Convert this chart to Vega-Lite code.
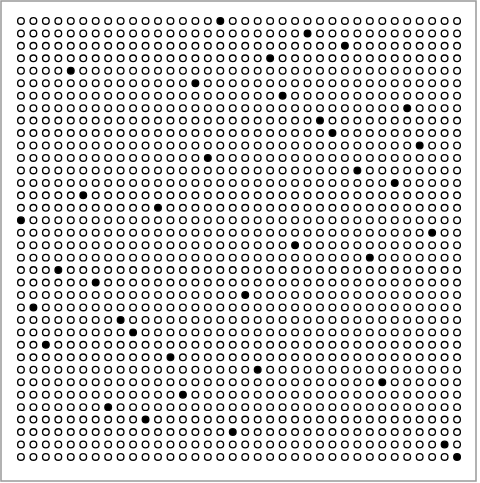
{
"$schema": "https://vega.github.io/schema/vega-lite/v6.json",
"width": 480, "height": 483,
"autosize": {"type": "fit", "contains": "padding"},
"padding": {"left": 1, "top": 1, "right": 4, "bottom": 2},
"background": "white",
"config": {"view": {"stroke": "#999999", "strokeWidth": 1.5}},
"data": {"values": [
{"r":0,"c":0,"f":0},{"r":0,"c":1,"f":0},{"r":0,"c":2,"f":0},{"r":0,"c":3,"f":0},{"r":0,"c":4,"f":0},{"r":0,"c":5,"f":0},{"r":0,"c":6,"f":0},{"r":0,"c":7,"f":0},{"r":0,"c":8,"f":0},{"r":0,"c":9,"f":0},{"r":0,"c":10,"f":0},{"r":0,"c":11,"f":0},{"r":0,"c":12,"f":0},{"r":0,"c":13,"f":0},{"r":0,"c":14,"f":0},{"r":0,"c":15,"f":0},{"r":0,"c":16,"f":1},{"r":0,"c":17,"f":0},{"r":0,"c":18,"f":0},{"r":0,"c":19,"f":0},{"r":0,"c":20,"f":0},{"r":0,"c":21,"f":0},{"r":0,"c":22,"f":0},{"r":0,"c":23,"f":0},{"r":0,"c":24,"f":0},{"r":0,"c":25,"f":0},{"r":0,"c":26,"f":0},{"r":0,"c":27,"f":0},{"r":0,"c":28,"f":0},{"r":0,"c":29,"f":0},{"r":0,"c":30,"f":0},{"r":0,"c":31,"f":0},{"r":0,"c":32,"f":0},{"r":0,"c":33,"f":0},{"r":0,"c":34,"f":0},{"r":0,"c":35,"f":0},
{"r":1,"c":0,"f":0},{"r":1,"c":1,"f":0},{"r":1,"c":2,"f":0},{"r":1,"c":3,"f":0},{"r":1,"c":4,"f":0},{"r":1,"c":5,"f":0},{"r":1,"c":6,"f":0},{"r":1,"c":7,"f":0},{"r":1,"c":8,"f":0},{"r":1,"c":9,"f":0},{"r":1,"c":10,"f":0},{"r":1,"c":11,"f":0},{"r":1,"c":12,"f":0},{"r":1,"c":13,"f":0},{"r":1,"c":14,"f":0},{"r":1,"c":15,"f":0},{"r":1,"c":16,"f":0},{"r":1,"c":17,"f":0},{"r":1,"c":18,"f":0},{"r":1,"c":19,"f":0},{"r":1,"c":20,"f":0},{"r":1,"c":21,"f":0},{"r":1,"c":22,"f":0},{"r":1,"c":23,"f":1},{"r":1,"c":24,"f":0},{"r":1,"c":25,"f":0},{"r":1,"c":26,"f":0},{"r":1,"c":27,"f":0},{"r":1,"c":28,"f":0},{"r":1,"c":29,"f":0},{"r":1,"c":30,"f":0},{"r":1,"c":31,"f":0},{"r":1,"c":32,"f":0},{"r":1,"c":33,"f":0},{"r":1,"c":34,"f":0},{"r":1,"c":35,"f":0},
{"r":2,"c":0,"f":0},{"r":2,"c":1,"f":0},{"r":2,"c":2,"f":0},{"r":2,"c":3,"f":0},{"r":2,"c":4,"f":0},{"r":2,"c":5,"f":0},{"r":2,"c":6,"f":0},{"r":2,"c":7,"f":0},{"r":2,"c":8,"f":0},{"r":2,"c":9,"f":0},{"r":2,"c":10,"f":0},{"r":2,"c":11,"f":0},{"r":2,"c":12,"f":0},{"r":2,"c":13,"f":0},{"r":2,"c":14,"f":0},{"r":2,"c":15,"f":0},{"r":2,"c":16,"f":0},{"r":2,"c":17,"f":0},{"r":2,"c":18,"f":0},{"r":2,"c":19,"f":0},{"r":2,"c":20,"f":0},{"r":2,"c":21,"f":0},{"r":2,"c":22,"f":0},{"r":2,"c":23,"f":0},{"r":2,"c":24,"f":0},{"r":2,"c":25,"f":0},{"r":2,"c":26,"f":1},{"r":2,"c":27,"f":0},{"r":2,"c":28,"f":0},{"r":2,"c":29,"f":0},{"r":2,"c":30,"f":0},{"r":2,"c":31,"f":0},{"r":2,"c":32,"f":0},{"r":2,"c":33,"f":0},{"r":2,"c":34,"f":0},{"r":2,"c":35,"f":0},
{"r":3,"c":0,"f":0},{"r":3,"c":1,"f":0},{"r":3,"c":2,"f":0},{"r":3,"c":3,"f":0},{"r":3,"c":4,"f":0},{"r":3,"c":5,"f":0},{"r":3,"c":6,"f":0},{"r":3,"c":7,"f":0},{"r":3,"c":8,"f":0},{"r":3,"c":9,"f":0},{"r":3,"c":10,"f":0},{"r":3,"c":11,"f":0},{"r":3,"c":12,"f":0},{"r":3,"c":13,"f":0},{"r":3,"c":14,"f":0},{"r":3,"c":15,"f":0},{"r":3,"c":16,"f":0},{"r":3,"c":17,"f":0},{"r":3,"c":18,"f":0},{"r":3,"c":19,"f":0},{"r":3,"c":20,"f":1},{"r":3,"c":21,"f":0},{"r":3,"c":22,"f":0},{"r":3,"c":23,"f":0},{"r":3,"c":24,"f":0},{"r":3,"c":25,"f":0},{"r":3,"c":26,"f":0},{"r":3,"c":27,"f":0},{"r":3,"c":28,"f":0},{"r":3,"c":29,"f":0},{"r":3,"c":30,"f":0},{"r":3,"c":31,"f":0},{"r":3,"c":32,"f":0},{"r":3,"c":33,"f":0},{"r":3,"c":34,"f":0},{"r":3,"c":35,"f":0},
{"r":4,"c":0,"f":0},{"r":4,"c":1,"f":0},{"r":4,"c":2,"f":0},{"r":4,"c":3,"f":0},{"r":4,"c":4,"f":1},{"r":4,"c":5,"f":0},{"r":4,"c":6,"f":0},{"r":4,"c":7,"f":0},{"r":4,"c":8,"f":0},{"r":4,"c":9,"f":0},{"r":4,"c":10,"f":0},{"r":4,"c":11,"f":0},{"r":4,"c":12,"f":0},{"r":4,"c":13,"f":0},{"r":4,"c":14,"f":0},{"r":4,"c":15,"f":0},{"r":4,"c":16,"f":0},{"r":4,"c":17,"f":0},{"r":4,"c":18,"f":0},{"r":4,"c":19,"f":0},{"r":4,"c":20,"f":0},{"r":4,"c":21,"f":0},{"r":4,"c":22,"f":0},{"r":4,"c":23,"f":0},{"r":4,"c":24,"f":0},{"r":4,"c":25,"f":0},{"r":4,"c":26,"f":0},{"r":4,"c":27,"f":0},{"r":4,"c":28,"f":0},{"r":4,"c":29,"f":0},{"r":4,"c":30,"f":0},{"r":4,"c":31,"f":0},{"r":4,"c":32,"f":0},{"r":4,"c":33,"f":0},{"r":4,"c":34,"f":0},{"r":4,"c":35,"f":0},
{"r":5,"c":0,"f":0},{"r":5,"c":1,"f":0},{"r":5,"c":2,"f":0},{"r":5,"c":3,"f":0},{"r":5,"c":4,"f":0},{"r":5,"c":5,"f":0},{"r":5,"c":6,"f":0},{"r":5,"c":7,"f":0},{"r":5,"c":8,"f":0},{"r":5,"c":9,"f":0},{"r":5,"c":10,"f":0},{"r":5,"c":11,"f":0},{"r":5,"c":12,"f":0},{"r":5,"c":13,"f":0},{"r":5,"c":14,"f":1},{"r":5,"c":15,"f":0},{"r":5,"c":16,"f":0},{"r":5,"c":17,"f":0},{"r":5,"c":18,"f":0},{"r":5,"c":19,"f":0},{"r":5,"c":20,"f":0},{"r":5,"c":21,"f":0},{"r":5,"c":22,"f":0},{"r":5,"c":23,"f":0},{"r":5,"c":24,"f":0},{"r":5,"c":25,"f":0},{"r":5,"c":26,"f":0},{"r":5,"c":27,"f":0},{"r":5,"c":28,"f":0},{"r":5,"c":29,"f":0},{"r":5,"c":30,"f":0},{"r":5,"c":31,"f":0},{"r":5,"c":32,"f":0},{"r":5,"c":33,"f":0},{"r":5,"c":34,"f":0},{"r":5,"c":35,"f":0},
{"r":6,"c":0,"f":0},{"r":6,"c":1,"f":0},{"r":6,"c":2,"f":0},{"r":6,"c":3,"f":0},{"r":6,"c":4,"f":0},{"r":6,"c":5,"f":0},{"r":6,"c":6,"f":0},{"r":6,"c":7,"f":0},{"r":6,"c":8,"f":0},{"r":6,"c":9,"f":0},{"r":6,"c":10,"f":0},{"r":6,"c":11,"f":0},{"r":6,"c":12,"f":0},{"r":6,"c":13,"f":0},{"r":6,"c":14,"f":0},{"r":6,"c":15,"f":0},{"r":6,"c":16,"f":0},{"r":6,"c":17,"f":0},{"r":6,"c":18,"f":0},{"r":6,"c":19,"f":0},{"r":6,"c":20,"f":0},{"r":6,"c":21,"f":1},{"r":6,"c":22,"f":0},{"r":6,"c":23,"f":0},{"r":6,"c":24,"f":0},{"r":6,"c":25,"f":0},{"r":6,"c":26,"f":0},{"r":6,"c":27,"f":0},{"r":6,"c":28,"f":0},{"r":6,"c":29,"f":0},{"r":6,"c":30,"f":0},{"r":6,"c":31,"f":0},{"r":6,"c":32,"f":0},{"r":6,"c":33,"f":0},{"r":6,"c":34,"f":0},{"r":6,"c":35,"f":0},
{"r":7,"c":0,"f":0},{"r":7,"c":1,"f":0},{"r":7,"c":2,"f":0},{"r":7,"c":3,"f":0},{"r":7,"c":4,"f":0},{"r":7,"c":5,"f":0},{"r":7,"c":6,"f":0},{"r":7,"c":7,"f":0},{"r":7,"c":8,"f":0},{"r":7,"c":9,"f":0},{"r":7,"c":10,"f":0},{"r":7,"c":11,"f":0},{"r":7,"c":12,"f":0},{"r":7,"c":13,"f":0},{"r":7,"c":14,"f":0},{"r":7,"c":15,"f":0},{"r":7,"c":16,"f":0},{"r":7,"c":17,"f":0},{"r":7,"c":18,"f":0},{"r":7,"c":19,"f":0},{"r":7,"c":20,"f":0},{"r":7,"c":21,"f":0},{"r":7,"c":22,"f":0},{"r":7,"c":23,"f":0},{"r":7,"c":24,"f":0},{"r":7,"c":25,"f":0},{"r":7,"c":26,"f":0},{"r":7,"c":27,"f":0},{"r":7,"c":28,"f":0},{"r":7,"c":29,"f":0},{"r":7,"c":30,"f":0},{"r":7,"c":31,"f":1},{"r":7,"c":32,"f":0},{"r":7,"c":33,"f":0},{"r":7,"c":34,"f":0},{"r":7,"c":35,"f":0},
{"r":8,"c":0,"f":0},{"r":8,"c":1,"f":0},{"r":8,"c":2,"f":0},{"r":8,"c":3,"f":0},{"r":8,"c":4,"f":0},{"r":8,"c":5,"f":0},{"r":8,"c":6,"f":0},{"r":8,"c":7,"f":0},{"r":8,"c":8,"f":0},{"r":8,"c":9,"f":0},{"r":8,"c":10,"f":0},{"r":8,"c":11,"f":0},{"r":8,"c":12,"f":0},{"r":8,"c":13,"f":0},{"r":8,"c":14,"f":0},{"r":8,"c":15,"f":0},{"r":8,"c":16,"f":0},{"r":8,"c":17,"f":0},{"r":8,"c":18,"f":0},{"r":8,"c":19,"f":0},{"r":8,"c":20,"f":0},{"r":8,"c":21,"f":0},{"r":8,"c":22,"f":0},{"r":8,"c":23,"f":0},{"r":8,"c":24,"f":1},{"r":8,"c":25,"f":0},{"r":8,"c":26,"f":0},{"r":8,"c":27,"f":0},{"r":8,"c":28,"f":0},{"r":8,"c":29,"f":0},{"r":8,"c":30,"f":0},{"r":8,"c":31,"f":0},{"r":8,"c":32,"f":0},{"r":8,"c":33,"f":0},{"r":8,"c":34,"f":0},{"r":8,"c":35,"f":0},
{"r":9,"c":0,"f":0},{"r":9,"c":1,"f":0},{"r":9,"c":2,"f":0},{"r":9,"c":3,"f":0},{"r":9,"c":4,"f":0},{"r":9,"c":5,"f":0},{"r":9,"c":6,"f":0},{"r":9,"c":7,"f":0},{"r":9,"c":8,"f":0},{"r":9,"c":9,"f":0},{"r":9,"c":10,"f":0},{"r":9,"c":11,"f":0},{"r":9,"c":12,"f":0},{"r":9,"c":13,"f":0},{"r":9,"c":14,"f":0},{"r":9,"c":15,"f":0},{"r":9,"c":16,"f":0},{"r":9,"c":17,"f":0},{"r":9,"c":18,"f":0},{"r":9,"c":19,"f":0},{"r":9,"c":20,"f":0},{"r":9,"c":21,"f":0},{"r":9,"c":22,"f":0},{"r":9,"c":23,"f":0},{"r":9,"c":24,"f":0},{"r":9,"c":25,"f":1},{"r":9,"c":26,"f":0},{"r":9,"c":27,"f":0},{"r":9,"c":28,"f":0},{"r":9,"c":29,"f":0},{"r":9,"c":30,"f":0},{"r":9,"c":31,"f":0},{"r":9,"c":32,"f":0},{"r":9,"c":33,"f":0},{"r":9,"c":34,"f":0},{"r":9,"c":35,"f":0},
{"r":10,"c":0,"f":0},{"r":10,"c":1,"f":0},{"r":10,"c":2,"f":0},{"r":10,"c":3,"f":0},{"r":10,"c":4,"f":0},{"r":10,"c":5,"f":0},{"r":10,"c":6,"f":0},{"r":10,"c":7,"f":0},{"r":10,"c":8,"f":0},{"r":10,"c":9,"f":0},{"r":10,"c":10,"f":0},{"r":10,"c":11,"f":0},{"r":10,"c":12,"f":0},{"r":10,"c":13,"f":0},{"r":10,"c":14,"f":0},{"r":10,"c":15,"f":0},{"r":10,"c":16,"f":0},{"r":10,"c":17,"f":0},{"r":10,"c":18,"f":0},{"r":10,"c":19,"f":0},{"r":10,"c":20,"f":0},{"r":10,"c":21,"f":0},{"r":10,"c":22,"f":0},{"r":10,"c":23,"f":0},{"r":10,"c":24,"f":0},{"r":10,"c":25,"f":0},{"r":10,"c":26,"f":0},{"r":10,"c":27,"f":0},{"r":10,"c":28,"f":0},{"r":10,"c":29,"f":0},{"r":10,"c":30,"f":0},{"r":10,"c":31,"f":0},{"r":10,"c":32,"f":1},{"r":10,"c":33,"f":0},{"r":10,"c":34,"f":0},{"r":10,"c":35,"f":0},
{"r":11,"c":0,"f":0},{"r":11,"c":1,"f":0},{"r":11,"c":2,"f":0},{"r":11,"c":3,"f":0},{"r":11,"c":4,"f":0},{"r":11,"c":5,"f":0},{"r":11,"c":6,"f":0},{"r":11,"c":7,"f":0},{"r":11,"c":8,"f":0},{"r":11,"c":9,"f":0},{"r":11,"c":10,"f":0},{"r":11,"c":11,"f":0},{"r":11,"c":12,"f":0},{"r":11,"c":13,"f":0},{"r":11,"c":14,"f":0},{"r":11,"c":15,"f":1},{"r":11,"c":16,"f":0},{"r":11,"c":17,"f":0},{"r":11,"c":18,"f":0},{"r":11,"c":19,"f":0},{"r":11,"c":20,"f":0},{"r":11,"c":21,"f":0},{"r":11,"c":22,"f":0},{"r":11,"c":23,"f":0},{"r":11,"c":24,"f":0},{"r":11,"c":25,"f":0},{"r":11,"c":26,"f":0},{"r":11,"c":27,"f":0},{"r":11,"c":28,"f":0},{"r":11,"c":29,"f":0},{"r":11,"c":30,"f":0},{"r":11,"c":31,"f":0},{"r":11,"c":32,"f":0},{"r":11,"c":33,"f":0},{"r":11,"c":34,"f":0},{"r":11,"c":35,"f":0},
{"r":12,"c":0,"f":0},{"r":12,"c":1,"f":0},{"r":12,"c":2,"f":0},{"r":12,"c":3,"f":0},{"r":12,"c":4,"f":0},{"r":12,"c":5,"f":0},{"r":12,"c":6,"f":0},{"r":12,"c":7,"f":0},{"r":12,"c":8,"f":0},{"r":12,"c":9,"f":0},{"r":12,"c":10,"f":0},{"r":12,"c":11,"f":0},{"r":12,"c":12,"f":0},{"r":12,"c":13,"f":0},{"r":12,"c":14,"f":0},{"r":12,"c":15,"f":0},{"r":12,"c":16,"f":0},{"r":12,"c":17,"f":0},{"r":12,"c":18,"f":0},{"r":12,"c":19,"f":0},{"r":12,"c":20,"f":0},{"r":12,"c":21,"f":0},{"r":12,"c":22,"f":0},{"r":12,"c":23,"f":0},{"r":12,"c":24,"f":0},{"r":12,"c":25,"f":0},{"r":12,"c":26,"f":0},{"r":12,"c":27,"f":1},{"r":12,"c":28,"f":0},{"r":12,"c":29,"f":0},{"r":12,"c":30,"f":0},{"r":12,"c":31,"f":0},{"r":12,"c":32,"f":0},{"r":12,"c":33,"f":0},{"r":12,"c":34,"f":0},{"r":12,"c":35,"f":0},
{"r":13,"c":0,"f":0},{"r":13,"c":1,"f":0},{"r":13,"c":2,"f":0},{"r":13,"c":3,"f":0},{"r":13,"c":4,"f":0},{"r":13,"c":5,"f":0},{"r":13,"c":6,"f":0},{"r":13,"c":7,"f":0},{"r":13,"c":8,"f":0},{"r":13,"c":9,"f":0},{"r":13,"c":10,"f":0},{"r":13,"c":11,"f":0},{"r":13,"c":12,"f":0},{"r":13,"c":13,"f":0},{"r":13,"c":14,"f":0},{"r":13,"c":15,"f":0},{"r":13,"c":16,"f":0},{"r":13,"c":17,"f":0},{"r":13,"c":18,"f":0},{"r":13,"c":19,"f":0},{"r":13,"c":20,"f":0},{"r":13,"c":21,"f":0},{"r":13,"c":22,"f":0},{"r":13,"c":23,"f":0},{"r":13,"c":24,"f":0},{"r":13,"c":25,"f":0},{"r":13,"c":26,"f":0},{"r":13,"c":27,"f":0},{"r":13,"c":28,"f":0},{"r":13,"c":29,"f":0},{"r":13,"c":30,"f":1},{"r":13,"c":31,"f":0},{"r":13,"c":32,"f":0},{"r":13,"c":33,"f":0},{"r":13,"c":34,"f":0},{"r":13,"c":35,"f":0},
{"r":14,"c":0,"f":0},{"r":14,"c":1,"f":0},{"r":14,"c":2,"f":0},{"r":14,"c":3,"f":0},{"r":14,"c":4,"f":0},{"r":14,"c":5,"f":1},{"r":14,"c":6,"f":0},{"r":14,"c":7,"f":0},{"r":14,"c":8,"f":0},{"r":14,"c":9,"f":0},{"r":14,"c":10,"f":0},{"r":14,"c":11,"f":0},{"r":14,"c":12,"f":0},{"r":14,"c":13,"f":0},{"r":14,"c":14,"f":0},{"r":14,"c":15,"f":0},{"r":14,"c":16,"f":0},{"r":14,"c":17,"f":0},{"r":14,"c":18,"f":0},{"r":14,"c":19,"f":0},{"r":14,"c":20,"f":0},{"r":14,"c":21,"f":0},{"r":14,"c":22,"f":0},{"r":14,"c":23,"f":0},{"r":14,"c":24,"f":0},{"r":14,"c":25,"f":0},{"r":14,"c":26,"f":0},{"r":14,"c":27,"f":0},{"r":14,"c":28,"f":0},{"r":14,"c":29,"f":0},{"r":14,"c":30,"f":0},{"r":14,"c":31,"f":0},{"r":14,"c":32,"f":0},{"r":14,"c":33,"f":0},{"r":14,"c":34,"f":0},{"r":14,"c":35,"f":0},
{"r":15,"c":0,"f":0},{"r":15,"c":1,"f":0},{"r":15,"c":2,"f":0},{"r":15,"c":3,"f":0},{"r":15,"c":4,"f":0},{"r":15,"c":5,"f":0},{"r":15,"c":6,"f":0},{"r":15,"c":7,"f":0},{"r":15,"c":8,"f":0},{"r":15,"c":9,"f":0},{"r":15,"c":10,"f":0},{"r":15,"c":11,"f":1},{"r":15,"c":12,"f":0},{"r":15,"c":13,"f":0},{"r":15,"c":14,"f":0},{"r":15,"c":15,"f":0},{"r":15,"c":16,"f":0},{"r":15,"c":17,"f":0},{"r":15,"c":18,"f":0},{"r":15,"c":19,"f":0},{"r":15,"c":20,"f":0},{"r":15,"c":21,"f":0},{"r":15,"c":22,"f":0},{"r":15,"c":23,"f":0},{"r":15,"c":24,"f":0},{"r":15,"c":25,"f":0},{"r":15,"c":26,"f":0},{"r":15,"c":27,"f":0},{"r":15,"c":28,"f":0},{"r":15,"c":29,"f":0},{"r":15,"c":30,"f":0},{"r":15,"c":31,"f":0},{"r":15,"c":32,"f":0},{"r":15,"c":33,"f":0},{"r":15,"c":34,"f":0},{"r":15,"c":35,"f":0},
{"r":16,"c":0,"f":1},{"r":16,"c":1,"f":0},{"r":16,"c":2,"f":0},{"r":16,"c":3,"f":0},{"r":16,"c":4,"f":0},{"r":16,"c":5,"f":0},{"r":16,"c":6,"f":0},{"r":16,"c":7,"f":0},{"r":16,"c":8,"f":0},{"r":16,"c":9,"f":0},{"r":16,"c":10,"f":0},{"r":16,"c":11,"f":0},{"r":16,"c":12,"f":0},{"r":16,"c":13,"f":0},{"r":16,"c":14,"f":0},{"r":16,"c":15,"f":0},{"r":16,"c":16,"f":0},{"r":16,"c":17,"f":0},{"r":16,"c":18,"f":0},{"r":16,"c":19,"f":0},{"r":16,"c":20,"f":0},{"r":16,"c":21,"f":0},{"r":16,"c":22,"f":0},{"r":16,"c":23,"f":0},{"r":16,"c":24,"f":0},{"r":16,"c":25,"f":0},{"r":16,"c":26,"f":0},{"r":16,"c":27,"f":0},{"r":16,"c":28,"f":0},{"r":16,"c":29,"f":0},{"r":16,"c":30,"f":0},{"r":16,"c":31,"f":0},{"r":16,"c":32,"f":0},{"r":16,"c":33,"f":0},{"r":16,"c":34,"f":0},{"r":16,"c":35,"f":0},
{"r":17,"c":0,"f":0},{"r":17,"c":1,"f":0},{"r":17,"c":2,"f":0},{"r":17,"c":3,"f":0},{"r":17,"c":4,"f":0},{"r":17,"c":5,"f":0},{"r":17,"c":6,"f":0},{"r":17,"c":7,"f":0},{"r":17,"c":8,"f":0},{"r":17,"c":9,"f":0},{"r":17,"c":10,"f":0},{"r":17,"c":11,"f":0},{"r":17,"c":12,"f":0},{"r":17,"c":13,"f":0},{"r":17,"c":14,"f":0},{"r":17,"c":15,"f":0},{"r":17,"c":16,"f":0},{"r":17,"c":17,"f":0},{"r":17,"c":18,"f":0},{"r":17,"c":19,"f":0},{"r":17,"c":20,"f":0},{"r":17,"c":21,"f":0},{"r":17,"c":22,"f":0},{"r":17,"c":23,"f":0},{"r":17,"c":24,"f":0},{"r":17,"c":25,"f":0},{"r":17,"c":26,"f":0},{"r":17,"c":27,"f":0},{"r":17,"c":28,"f":0},{"r":17,"c":29,"f":0},{"r":17,"c":30,"f":0},{"r":17,"c":31,"f":0},{"r":17,"c":32,"f":0},{"r":17,"c":33,"f":1},{"r":17,"c":34,"f":0},{"r":17,"c":35,"f":0},
{"r":18,"c":0,"f":0},{"r":18,"c":1,"f":0},{"r":18,"c":2,"f":0},{"r":18,"c":3,"f":0},{"r":18,"c":4,"f":0},{"r":18,"c":5,"f":0},{"r":18,"c":6,"f":0},{"r":18,"c":7,"f":0},{"r":18,"c":8,"f":0},{"r":18,"c":9,"f":0},{"r":18,"c":10,"f":0},{"r":18,"c":11,"f":0},{"r":18,"c":12,"f":0},{"r":18,"c":13,"f":0},{"r":18,"c":14,"f":0},{"r":18,"c":15,"f":0},{"r":18,"c":16,"f":0},{"r":18,"c":17,"f":0},{"r":18,"c":18,"f":0},{"r":18,"c":19,"f":0},{"r":18,"c":20,"f":0},{"r":18,"c":21,"f":0},{"r":18,"c":22,"f":1},{"r":18,"c":23,"f":0},{"r":18,"c":24,"f":0},{"r":18,"c":25,"f":0},{"r":18,"c":26,"f":0},{"r":18,"c":27,"f":0},{"r":18,"c":28,"f":0},{"r":18,"c":29,"f":0},{"r":18,"c":30,"f":0},{"r":18,"c":31,"f":0},{"r":18,"c":32,"f":0},{"r":18,"c":33,"f":0},{"r":18,"c":34,"f":0},{"r":18,"c":35,"f":0},
{"r":19,"c":0,"f":0},{"r":19,"c":1,"f":0},{"r":19,"c":2,"f":0},{"r":19,"c":3,"f":0},{"r":19,"c":4,"f":0},{"r":19,"c":5,"f":0},{"r":19,"c":6,"f":0},{"r":19,"c":7,"f":0},{"r":19,"c":8,"f":0},{"r":19,"c":9,"f":0},{"r":19,"c":10,"f":0},{"r":19,"c":11,"f":0},{"r":19,"c":12,"f":0},{"r":19,"c":13,"f":0},{"r":19,"c":14,"f":0},{"r":19,"c":15,"f":0},{"r":19,"c":16,"f":0},{"r":19,"c":17,"f":0},{"r":19,"c":18,"f":0},{"r":19,"c":19,"f":0},{"r":19,"c":20,"f":0},{"r":19,"c":21,"f":0},{"r":19,"c":22,"f":0},{"r":19,"c":23,"f":0},{"r":19,"c":24,"f":0},{"r":19,"c":25,"f":0},{"r":19,"c":26,"f":0},{"r":19,"c":27,"f":0},{"r":19,"c":28,"f":1},{"r":19,"c":29,"f":0},{"r":19,"c":30,"f":0},{"r":19,"c":31,"f":0},{"r":19,"c":32,"f":0},{"r":19,"c":33,"f":0},{"r":19,"c":34,"f":0},{"r":19,"c":35,"f":0},
{"r":20,"c":0,"f":0},{"r":20,"c":1,"f":0},{"r":20,"c":2,"f":0},{"r":20,"c":3,"f":1},{"r":20,"c":4,"f":0},{"r":20,"c":5,"f":0},{"r":20,"c":6,"f":0},{"r":20,"c":7,"f":0},{"r":20,"c":8,"f":0},{"r":20,"c":9,"f":0},{"r":20,"c":10,"f":0},{"r":20,"c":11,"f":0},{"r":20,"c":12,"f":0},{"r":20,"c":13,"f":0},{"r":20,"c":14,"f":0},{"r":20,"c":15,"f":0},{"r":20,"c":16,"f":0},{"r":20,"c":17,"f":0},{"r":20,"c":18,"f":0},{"r":20,"c":19,"f":0},{"r":20,"c":20,"f":0},{"r":20,"c":21,"f":0},{"r":20,"c":22,"f":0},{"r":20,"c":23,"f":0},{"r":20,"c":24,"f":0},{"r":20,"c":25,"f":0},{"r":20,"c":26,"f":0},{"r":20,"c":27,"f":0},{"r":20,"c":28,"f":0},{"r":20,"c":29,"f":0},{"r":20,"c":30,"f":0},{"r":20,"c":31,"f":0},{"r":20,"c":32,"f":0},{"r":20,"c":33,"f":0},{"r":20,"c":34,"f":0},{"r":20,"c":35,"f":0},
{"r":21,"c":0,"f":0},{"r":21,"c":1,"f":0},{"r":21,"c":2,"f":0},{"r":21,"c":3,"f":0},{"r":21,"c":4,"f":0},{"r":21,"c":5,"f":0},{"r":21,"c":6,"f":1},{"r":21,"c":7,"f":0},{"r":21,"c":8,"f":0},{"r":21,"c":9,"f":0},{"r":21,"c":10,"f":0},{"r":21,"c":11,"f":0},{"r":21,"c":12,"f":0},{"r":21,"c":13,"f":0},{"r":21,"c":14,"f":0},{"r":21,"c":15,"f":0},{"r":21,"c":16,"f":0},{"r":21,"c":17,"f":0},{"r":21,"c":18,"f":0},{"r":21,"c":19,"f":0},{"r":21,"c":20,"f":0},{"r":21,"c":21,"f":0},{"r":21,"c":22,"f":0},{"r":21,"c":23,"f":0},{"r":21,"c":24,"f":0},{"r":21,"c":25,"f":0},{"r":21,"c":26,"f":0},{"r":21,"c":27,"f":0},{"r":21,"c":28,"f":0},{"r":21,"c":29,"f":0},{"r":21,"c":30,"f":0},{"r":21,"c":31,"f":0},{"r":21,"c":32,"f":0},{"r":21,"c":33,"f":0},{"r":21,"c":34,"f":0},{"r":21,"c":35,"f":0},
{"r":22,"c":0,"f":0},{"r":22,"c":1,"f":0},{"r":22,"c":2,"f":0},{"r":22,"c":3,"f":0},{"r":22,"c":4,"f":0},{"r":22,"c":5,"f":0},{"r":22,"c":6,"f":0},{"r":22,"c":7,"f":0},{"r":22,"c":8,"f":0},{"r":22,"c":9,"f":0},{"r":22,"c":10,"f":0},{"r":22,"c":11,"f":0},{"r":22,"c":12,"f":0},{"r":22,"c":13,"f":0},{"r":22,"c":14,"f":0},{"r":22,"c":15,"f":0},{"r":22,"c":16,"f":0},{"r":22,"c":17,"f":0},{"r":22,"c":18,"f":1},{"r":22,"c":19,"f":0},{"r":22,"c":20,"f":0},{"r":22,"c":21,"f":0},{"r":22,"c":22,"f":0},{"r":22,"c":23,"f":0},{"r":22,"c":24,"f":0},{"r":22,"c":25,"f":0},{"r":22,"c":26,"f":0},{"r":22,"c":27,"f":0},{"r":22,"c":28,"f":0},{"r":22,"c":29,"f":0},{"r":22,"c":30,"f":0},{"r":22,"c":31,"f":0},{"r":22,"c":32,"f":0},{"r":22,"c":33,"f":0},{"r":22,"c":34,"f":0},{"r":22,"c":35,"f":0},
{"r":23,"c":0,"f":0},{"r":23,"c":1,"f":1},{"r":23,"c":2,"f":0},{"r":23,"c":3,"f":0},{"r":23,"c":4,"f":0},{"r":23,"c":5,"f":0},{"r":23,"c":6,"f":0},{"r":23,"c":7,"f":0},{"r":23,"c":8,"f":0},{"r":23,"c":9,"f":0},{"r":23,"c":10,"f":0},{"r":23,"c":11,"f":0},{"r":23,"c":12,"f":0},{"r":23,"c":13,"f":0},{"r":23,"c":14,"f":0},{"r":23,"c":15,"f":0},{"r":23,"c":16,"f":0},{"r":23,"c":17,"f":0},{"r":23,"c":18,"f":0},{"r":23,"c":19,"f":0},{"r":23,"c":20,"f":0},{"r":23,"c":21,"f":0},{"r":23,"c":22,"f":0},{"r":23,"c":23,"f":0},{"r":23,"c":24,"f":0},{"r":23,"c":25,"f":0},{"r":23,"c":26,"f":0},{"r":23,"c":27,"f":0},{"r":23,"c":28,"f":0},{"r":23,"c":29,"f":0},{"r":23,"c":30,"f":0},{"r":23,"c":31,"f":0},{"r":23,"c":32,"f":0},{"r":23,"c":33,"f":0},{"r":23,"c":34,"f":0},{"r":23,"c":35,"f":0},
{"r":24,"c":0,"f":0},{"r":24,"c":1,"f":0},{"r":24,"c":2,"f":0},{"r":24,"c":3,"f":0},{"r":24,"c":4,"f":0},{"r":24,"c":5,"f":0},{"r":24,"c":6,"f":0},{"r":24,"c":7,"f":0},{"r":24,"c":8,"f":1},{"r":24,"c":9,"f":0},{"r":24,"c":10,"f":0},{"r":24,"c":11,"f":0},{"r":24,"c":12,"f":0},{"r":24,"c":13,"f":0},{"r":24,"c":14,"f":0},{"r":24,"c":15,"f":0},{"r":24,"c":16,"f":0},{"r":24,"c":17,"f":0},{"r":24,"c":18,"f":0},{"r":24,"c":19,"f":0},{"r":24,"c":20,"f":0},{"r":24,"c":21,"f":0},{"r":24,"c":22,"f":0},{"r":24,"c":23,"f":0},{"r":24,"c":24,"f":0},{"r":24,"c":25,"f":0},{"r":24,"c":26,"f":0},{"r":24,"c":27,"f":0},{"r":24,"c":28,"f":0},{"r":24,"c":29,"f":0},{"r":24,"c":30,"f":0},{"r":24,"c":31,"f":0},{"r":24,"c":32,"f":0},{"r":24,"c":33,"f":0},{"r":24,"c":34,"f":0},{"r":24,"c":35,"f":0},
{"r":25,"c":0,"f":0},{"r":25,"c":1,"f":0},{"r":25,"c":2,"f":0},{"r":25,"c":3,"f":0},{"r":25,"c":4,"f":0},{"r":25,"c":5,"f":0},{"r":25,"c":6,"f":0},{"r":25,"c":7,"f":0},{"r":25,"c":8,"f":0},{"r":25,"c":9,"f":1},{"r":25,"c":10,"f":0},{"r":25,"c":11,"f":0},{"r":25,"c":12,"f":0},{"r":25,"c":13,"f":0},{"r":25,"c":14,"f":0},{"r":25,"c":15,"f":0},{"r":25,"c":16,"f":0},{"r":25,"c":17,"f":0},{"r":25,"c":18,"f":0},{"r":25,"c":19,"f":0},{"r":25,"c":20,"f":0},{"r":25,"c":21,"f":0},{"r":25,"c":22,"f":0},{"r":25,"c":23,"f":0},{"r":25,"c":24,"f":0},{"r":25,"c":25,"f":0},{"r":25,"c":26,"f":0},{"r":25,"c":27,"f":0},{"r":25,"c":28,"f":0},{"r":25,"c":29,"f":0},{"r":25,"c":30,"f":0},{"r":25,"c":31,"f":0},{"r":25,"c":32,"f":0},{"r":25,"c":33,"f":0},{"r":25,"c":34,"f":0},{"r":25,"c":35,"f":0},
{"r":26,"c":0,"f":0},{"r":26,"c":1,"f":0},{"r":26,"c":2,"f":1},{"r":26,"c":3,"f":0},{"r":26,"c":4,"f":0},{"r":26,"c":5,"f":0},{"r":26,"c":6,"f":0},{"r":26,"c":7,"f":0},{"r":26,"c":8,"f":0},{"r":26,"c":9,"f":0},{"r":26,"c":10,"f":0},{"r":26,"c":11,"f":0},{"r":26,"c":12,"f":0},{"r":26,"c":13,"f":0},{"r":26,"c":14,"f":0},{"r":26,"c":15,"f":0},{"r":26,"c":16,"f":0},{"r":26,"c":17,"f":0},{"r":26,"c":18,"f":0},{"r":26,"c":19,"f":0},{"r":26,"c":20,"f":0},{"r":26,"c":21,"f":0},{"r":26,"c":22,"f":0},{"r":26,"c":23,"f":0},{"r":26,"c":24,"f":0},{"r":26,"c":25,"f":0},{"r":26,"c":26,"f":0},{"r":26,"c":27,"f":0},{"r":26,"c":28,"f":0},{"r":26,"c":29,"f":0},{"r":26,"c":30,"f":0},{"r":26,"c":31,"f":0},{"r":26,"c":32,"f":0},{"r":26,"c":33,"f":0},{"r":26,"c":34,"f":0},{"r":26,"c":35,"f":0},
{"r":27,"c":0,"f":0},{"r":27,"c":1,"f":0},{"r":27,"c":2,"f":0},{"r":27,"c":3,"f":0},{"r":27,"c":4,"f":0},{"r":27,"c":5,"f":0},{"r":27,"c":6,"f":0},{"r":27,"c":7,"f":0},{"r":27,"c":8,"f":0},{"r":27,"c":9,"f":0},{"r":27,"c":10,"f":0},{"r":27,"c":11,"f":0},{"r":27,"c":12,"f":1},{"r":27,"c":13,"f":0},{"r":27,"c":14,"f":0},{"r":27,"c":15,"f":0},{"r":27,"c":16,"f":0},{"r":27,"c":17,"f":0},{"r":27,"c":18,"f":0},{"r":27,"c":19,"f":0},{"r":27,"c":20,"f":0},{"r":27,"c":21,"f":0},{"r":27,"c":22,"f":0},{"r":27,"c":23,"f":0},{"r":27,"c":24,"f":0},{"r":27,"c":25,"f":0},{"r":27,"c":26,"f":0},{"r":27,"c":27,"f":0},{"r":27,"c":28,"f":0},{"r":27,"c":29,"f":0},{"r":27,"c":30,"f":0},{"r":27,"c":31,"f":0},{"r":27,"c":32,"f":0},{"r":27,"c":33,"f":0},{"r":27,"c":34,"f":0},{"r":27,"c":35,"f":0},
{"r":28,"c":0,"f":0},{"r":28,"c":1,"f":0},{"r":28,"c":2,"f":0},{"r":28,"c":3,"f":0},{"r":28,"c":4,"f":0},{"r":28,"c":5,"f":0},{"r":28,"c":6,"f":0},{"r":28,"c":7,"f":0},{"r":28,"c":8,"f":0},{"r":28,"c":9,"f":0},{"r":28,"c":10,"f":0},{"r":28,"c":11,"f":0},{"r":28,"c":12,"f":0},{"r":28,"c":13,"f":0},{"r":28,"c":14,"f":0},{"r":28,"c":15,"f":0},{"r":28,"c":16,"f":0},{"r":28,"c":17,"f":0},{"r":28,"c":18,"f":0},{"r":28,"c":19,"f":1},{"r":28,"c":20,"f":0},{"r":28,"c":21,"f":0},{"r":28,"c":22,"f":0},{"r":28,"c":23,"f":0},{"r":28,"c":24,"f":0},{"r":28,"c":25,"f":0},{"r":28,"c":26,"f":0},{"r":28,"c":27,"f":0},{"r":28,"c":28,"f":0},{"r":28,"c":29,"f":0},{"r":28,"c":30,"f":0},{"r":28,"c":31,"f":0},{"r":28,"c":32,"f":0},{"r":28,"c":33,"f":0},{"r":28,"c":34,"f":0},{"r":28,"c":35,"f":0},
{"r":29,"c":0,"f":0},{"r":29,"c":1,"f":0},{"r":29,"c":2,"f":0},{"r":29,"c":3,"f":0},{"r":29,"c":4,"f":0},{"r":29,"c":5,"f":0},{"r":29,"c":6,"f":0},{"r":29,"c":7,"f":0},{"r":29,"c":8,"f":0},{"r":29,"c":9,"f":0},{"r":29,"c":10,"f":0},{"r":29,"c":11,"f":0},{"r":29,"c":12,"f":0},{"r":29,"c":13,"f":0},{"r":29,"c":14,"f":0},{"r":29,"c":15,"f":0},{"r":29,"c":16,"f":0},{"r":29,"c":17,"f":0},{"r":29,"c":18,"f":0},{"r":29,"c":19,"f":0},{"r":29,"c":20,"f":0},{"r":29,"c":21,"f":0},{"r":29,"c":22,"f":0},{"r":29,"c":23,"f":0},{"r":29,"c":24,"f":0},{"r":29,"c":25,"f":0},{"r":29,"c":26,"f":0},{"r":29,"c":27,"f":0},{"r":29,"c":28,"f":0},{"r":29,"c":29,"f":1},{"r":29,"c":30,"f":0},{"r":29,"c":31,"f":0},{"r":29,"c":32,"f":0},{"r":29,"c":33,"f":0},{"r":29,"c":34,"f":0},{"r":29,"c":35,"f":0},
{"r":30,"c":0,"f":0},{"r":30,"c":1,"f":0},{"r":30,"c":2,"f":0},{"r":30,"c":3,"f":0},{"r":30,"c":4,"f":0},{"r":30,"c":5,"f":0},{"r":30,"c":6,"f":0},{"r":30,"c":7,"f":0},{"r":30,"c":8,"f":0},{"r":30,"c":9,"f":0},{"r":30,"c":10,"f":0},{"r":30,"c":11,"f":0},{"r":30,"c":12,"f":0},{"r":30,"c":13,"f":1},{"r":30,"c":14,"f":0},{"r":30,"c":15,"f":0},{"r":30,"c":16,"f":0},{"r":30,"c":17,"f":0},{"r":30,"c":18,"f":0},{"r":30,"c":19,"f":0},{"r":30,"c":20,"f":0},{"r":30,"c":21,"f":0},{"r":30,"c":22,"f":0},{"r":30,"c":23,"f":0},{"r":30,"c":24,"f":0},{"r":30,"c":25,"f":0},{"r":30,"c":26,"f":0},{"r":30,"c":27,"f":0},{"r":30,"c":28,"f":0},{"r":30,"c":29,"f":0},{"r":30,"c":30,"f":0},{"r":30,"c":31,"f":0},{"r":30,"c":32,"f":0},{"r":30,"c":33,"f":0},{"r":30,"c":34,"f":0},{"r":30,"c":35,"f":0},
{"r":31,"c":0,"f":0},{"r":31,"c":1,"f":0},{"r":31,"c":2,"f":0},{"r":31,"c":3,"f":0},{"r":31,"c":4,"f":0},{"r":31,"c":5,"f":0},{"r":31,"c":6,"f":0},{"r":31,"c":7,"f":1},{"r":31,"c":8,"f":0},{"r":31,"c":9,"f":0},{"r":31,"c":10,"f":0},{"r":31,"c":11,"f":0},{"r":31,"c":12,"f":0},{"r":31,"c":13,"f":0},{"r":31,"c":14,"f":0},{"r":31,"c":15,"f":0},{"r":31,"c":16,"f":0},{"r":31,"c":17,"f":0},{"r":31,"c":18,"f":0},{"r":31,"c":19,"f":0},{"r":31,"c":20,"f":0},{"r":31,"c":21,"f":0},{"r":31,"c":22,"f":0},{"r":31,"c":23,"f":0},{"r":31,"c":24,"f":0},{"r":31,"c":25,"f":0},{"r":31,"c":26,"f":0},{"r":31,"c":27,"f":0},{"r":31,"c":28,"f":0},{"r":31,"c":29,"f":0},{"r":31,"c":30,"f":0},{"r":31,"c":31,"f":0},{"r":31,"c":32,"f":0},{"r":31,"c":33,"f":0},{"r":31,"c":34,"f":0},{"r":31,"c":35,"f":0},
{"r":32,"c":0,"f":0},{"r":32,"c":1,"f":0},{"r":32,"c":2,"f":0},{"r":32,"c":3,"f":0},{"r":32,"c":4,"f":0},{"r":32,"c":5,"f":0},{"r":32,"c":6,"f":0},{"r":32,"c":7,"f":0},{"r":32,"c":8,"f":0},{"r":32,"c":9,"f":0},{"r":32,"c":10,"f":1},{"r":32,"c":11,"f":0},{"r":32,"c":12,"f":0},{"r":32,"c":13,"f":0},{"r":32,"c":14,"f":0},{"r":32,"c":15,"f":0},{"r":32,"c":16,"f":0},{"r":32,"c":17,"f":0},{"r":32,"c":18,"f":0},{"r":32,"c":19,"f":0},{"r":32,"c":20,"f":0},{"r":32,"c":21,"f":0},{"r":32,"c":22,"f":0},{"r":32,"c":23,"f":0},{"r":32,"c":24,"f":0},{"r":32,"c":25,"f":0},{"r":32,"c":26,"f":0},{"r":32,"c":27,"f":0},{"r":32,"c":28,"f":0},{"r":32,"c":29,"f":0},{"r":32,"c":30,"f":0},{"r":32,"c":31,"f":0},{"r":32,"c":32,"f":0},{"r":32,"c":33,"f":0},{"r":32,"c":34,"f":0},{"r":32,"c":35,"f":0},
{"r":33,"c":0,"f":0},{"r":33,"c":1,"f":0},{"r":33,"c":2,"f":0},{"r":33,"c":3,"f":0},{"r":33,"c":4,"f":0},{"r":33,"c":5,"f":0},{"r":33,"c":6,"f":0},{"r":33,"c":7,"f":0},{"r":33,"c":8,"f":0},{"r":33,"c":9,"f":0},{"r":33,"c":10,"f":0},{"r":33,"c":11,"f":0},{"r":33,"c":12,"f":0},{"r":33,"c":13,"f":0},{"r":33,"c":14,"f":0},{"r":33,"c":15,"f":0},{"r":33,"c":16,"f":0},{"r":33,"c":17,"f":1},{"r":33,"c":18,"f":0},{"r":33,"c":19,"f":0},{"r":33,"c":20,"f":0},{"r":33,"c":21,"f":0},{"r":33,"c":22,"f":0},{"r":33,"c":23,"f":0},{"r":33,"c":24,"f":0},{"r":33,"c":25,"f":0},{"r":33,"c":26,"f":0},{"r":33,"c":27,"f":0},{"r":33,"c":28,"f":0},{"r":33,"c":29,"f":0},{"r":33,"c":30,"f":0},{"r":33,"c":31,"f":0},{"r":33,"c":32,"f":0},{"r":33,"c":33,"f":0},{"r":33,"c":34,"f":0},{"r":33,"c":35,"f":0},
{"r":34,"c":0,"f":0},{"r":34,"c":1,"f":0},{"r":34,"c":2,"f":0},{"r":34,"c":3,"f":0},{"r":34,"c":4,"f":0},{"r":34,"c":5,"f":0},{"r":34,"c":6,"f":0},{"r":34,"c":7,"f":0},{"r":34,"c":8,"f":0},{"r":34,"c":9,"f":0},{"r":34,"c":10,"f":0},{"r":34,"c":11,"f":0},{"r":34,"c":12,"f":0},{"r":34,"c":13,"f":0},{"r":34,"c":14,"f":0},{"r":34,"c":15,"f":0},{"r":34,"c":16,"f":0},{"r":34,"c":17,"f":0},{"r":34,"c":18,"f":0},{"r":34,"c":19,"f":0},{"r":34,"c":20,"f":0},{"r":34,"c":21,"f":0},{"r":34,"c":22,"f":0},{"r":34,"c":23,"f":0},{"r":34,"c":24,"f":0},{"r":34,"c":25,"f":0},{"r":34,"c":26,"f":0},{"r":34,"c":27,"f":0},{"r":34,"c":28,"f":0},{"r":34,"c":29,"f":0},{"r":34,"c":30,"f":0},{"r":34,"c":31,"f":0},{"r":34,"c":32,"f":0},{"r":34,"c":33,"f":0},{"r":34,"c":34,"f":1},{"r":34,"c":35,"f":0},
{"r":35,"c":0,"f":0},{"r":35,"c":1,"f":0},{"r":35,"c":2,"f":0},{"r":35,"c":3,"f":0},{"r":35,"c":4,"f":0},{"r":35,"c":5,"f":0},{"r":35,"c":6,"f":0},{"r":35,"c":7,"f":0},{"r":35,"c":8,"f":0},{"r":35,"c":9,"f":0},{"r":35,"c":10,"f":0},{"r":35,"c":11,"f":0},{"r":35,"c":12,"f":0},{"r":35,"c":13,"f":0},{"r":35,"c":14,"f":0},{"r":35,"c":15,"f":0},{"r":35,"c":16,"f":0},{"r":35,"c":17,"f":0},{"r":35,"c":18,"f":0},{"r":35,"c":19,"f":0},{"r":35,"c":20,"f":0},{"r":35,"c":21,"f":0},{"r":35,"c":22,"f":0},{"r":35,"c":23,"f":0},{"r":35,"c":24,"f":0},{"r":35,"c":25,"f":0},{"r":35,"c":26,"f":0},{"r":35,"c":27,"f":0},{"r":35,"c":28,"f":0},{"r":35,"c":29,"f":0},{"r":35,"c":30,"f":0},{"r":35,"c":31,"f":0},{"r":35,"c":32,"f":0},{"r":35,"c":33,"f":0},{"r":35,"c":34,"f":0},{"r":35,"c":35,"f":1}
]},
"mark": {"type": "point", "shape": "circle", "filled": false, "stroke": "black", "strokeWidth": 1.35, "size": 44, "opacity": 1},
"encoding": {
  "x": {"field": "c", "type": "quantitative", "scale": {"domain": [-1.6, 36.52], "nice": false, "zero": false}, "axis": null},
  "y": {"field": "r", "type": "quantitative", "scale": {"domain": [36.93, -1.6], "nice": false, "zero": false}, "axis": null},
  "fill": {"field": "f", "type": "nominal", "scale": {"domain": [0, 1], "range": ["white", "black"]}, "legend": null}
}
}
